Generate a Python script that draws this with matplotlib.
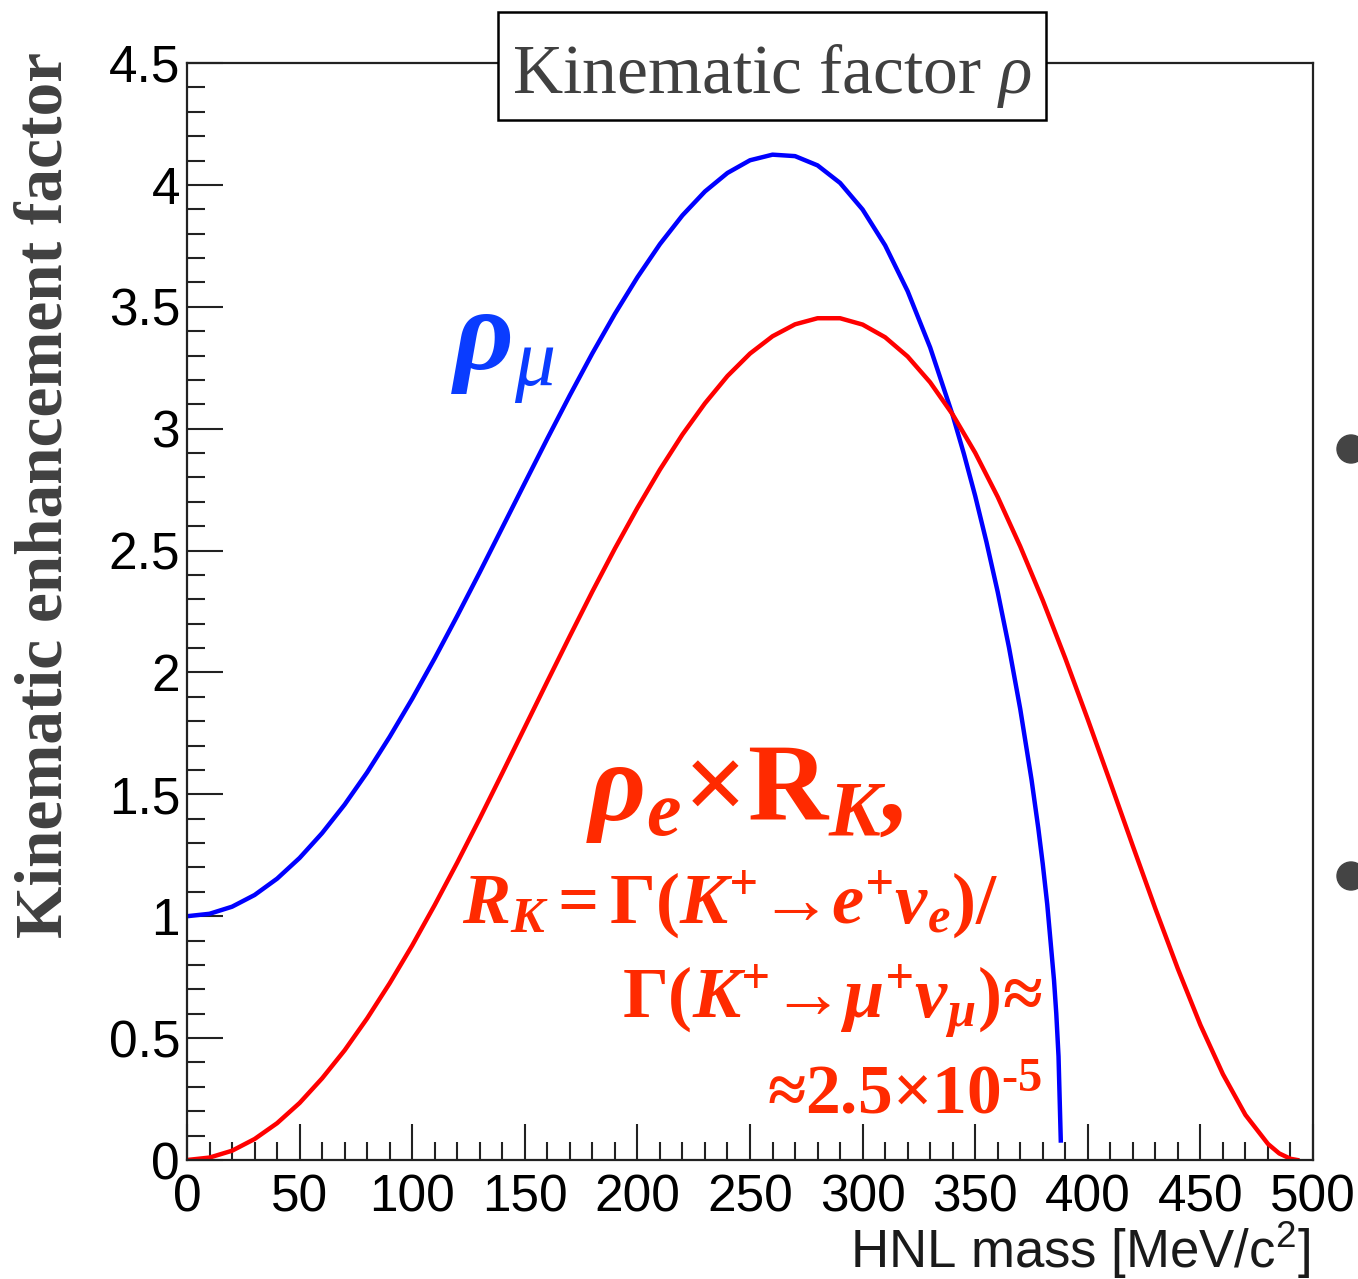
import matplotlib
matplotlib.use("Agg")
import matplotlib.pyplot as plt
from matplotlib.patches import Rectangle, Ellipse
from matplotlib.ticker import MultipleLocator, FuncFormatter

plt.rcParams['mathtext.fontset'] = 'custom'
plt.rcParams['mathtext.rm'] = 'Liberation Serif:bold'
plt.rcParams['mathtext.it'] = 'Liberation Serif:italic:bold'
plt.rcParams['mathtext.bf'] = 'Liberation Serif:bold'
plt.rcParams['mathtext.sf'] = 'Liberation Serif:italic'
plt.rcParams['mathtext.default'] = 'regular'

# ---- data ----
mass_mu = [0, 10, 20, 30, 40, 50, 60, 70, 80, 90, 100, 110, 120, 130, 140, 150,
           160, 170, 180, 190, 200, 210, 220, 230, 240, 250, 260, 270, 280, 290,
           300, 310, 320, 330, 340, 345, 350, 355, 360, 365, 370, 375, 378, 380,
           382, 385, 386, 387, 388]
rho_mu = [1.000, 1.010, 1.039, 1.087, 1.154, 1.239, 1.341, 1.458, 1.590, 1.736,
          1.892, 2.058, 2.232, 2.411, 2.594, 2.777, 2.959, 3.137, 3.309, 3.471,
          3.621, 3.757, 3.875, 3.973, 4.049, 4.101, 4.124, 4.118, 4.080, 4.008,
          3.899, 3.752, 3.564, 3.333, 3.055, 2.896, 2.724, 2.535, 2.330, 2.103,
          1.850, 1.561, 1.362, 1.214, 1.048, 0.737, 0.601, 0.425, 0.08]

mass_e = [0, 10, 20, 30, 40, 50, 60, 70, 80, 90, 100, 110, 120, 130, 140, 150,
          160, 170, 180, 190, 200, 210, 220, 230, 240, 250, 260, 270, 280, 290,
          300, 310, 320, 330, 340, 350, 360, 370, 380, 390, 400, 410, 420, 430,
          440, 450, 460, 470, 480, 485, 490, 493]
rho_e_RK = [0.0, 0.010, 0.038, 0.086, 0.151, 0.234, 0.335, 0.450, 0.581, 0.725,
            0.880, 1.046, 1.220, 1.401, 1.587, 1.775, 1.963, 2.149, 2.332, 2.508,
            2.675, 2.832, 2.976, 3.104, 3.216, 3.308, 3.379, 3.428, 3.453, 3.453,
            3.427, 3.375, 3.296, 3.190, 3.058, 2.901, 2.720, 2.517, 2.296, 2.058,
            1.807, 1.549, 1.288, 1.031, 0.784, 0.554, 0.352, 0.185, 0.066, 0.027,
            0.005, 0.0]

W, H = 1358, 1279
fig = plt.figure(figsize=(W / 100, H / 100), dpi=100)
fig.patch.set_facecolor('white')

def fx(px):
    return px / W

def fy(py):
    return 1 - py / H

ax = fig.add_axes([fx(187), fy(1160), (1313 - 187) / W, (1160 - 63) / H])
ax.plot(mass_mu, rho_mu, color='#0000ff', lw=3.2, solid_joinstyle='round')
ax.plot(mass_e, rho_e_RK, color='#ff0000', lw=3.2, solid_joinstyle='round')

ax.set_xlim(0, 500)
ax.set_ylim(0, 4.5)
ax.xaxis.set_major_locator(MultipleLocator(50))
ax.xaxis.set_minor_locator(MultipleLocator(10))
ax.yaxis.set_major_locator(MultipleLocator(0.5))
ax.yaxis.set_minor_locator(MultipleLocator(0.1))
ax.yaxis.set_major_formatter(FuncFormatter(lambda v, p: f"{v:g}"))
ax.xaxis.set_major_formatter(FuncFormatter(lambda v, p: f"{v:g}"))
ax.tick_params(which='both', direction='in', top=False, right=False,
               width=1.5, color='#222222', labelcolor='black')
ax.tick_params(which='major', length=26)
ax.tick_params(which='minor', length=13)
ax.tick_params(axis='y', which='major', pad=5)
ax.tick_params(axis='x', which='major', pad=10)
for lab in ax.get_xticklabels() + ax.get_yticklabels():
    lab.set_fontfamily('Liberation Sans')
    lab.set_fontsize(37)
for s in ax.spines.values():
    s.set_linewidth(1.6)
    s.set_color('#222222')

# y label
fig.text(fx(45), fy(495), "Kinematic enhancement factor", rotation=90,
         ha='center', va='center', fontsize=48.5, fontweight='bold',
         family='Liberation Serif', color='#404040')
# x label
fig.text(fx(1310), fy(1268), r"HNL mass [MeV/c$^{2}$]", ha='right',
         va='baseline', fontsize=38, family='Liberation Sans', color='#1a1a1a')

# title box
rect = Rectangle((fx(498), fy(120)), 548 / W, 108 / H, transform=fig.transFigure,
                 facecolor='white', edgecolor='black', lw=1.8, zorder=5)
fig.add_artist(rect)
fig.text(fx(772), fy(93), r"Kinematic factor $\mathsf{\rho}$", ha='center',
         va='baseline', fontsize=50, family='Liberation Serif', color='#404040',
         zorder=6)

# annotations
blue_txt = '#0a3cff'
red_txt = '#ff2a00'
fig.text(fx(451), fy(370), r"$\rho_{\mathsf{\mu}}$", ha='left', va='baseline',
         fontsize=84, family='Liberation Serif', fontweight='bold',
         style='italic', color=blue_txt)
fig.text(fx(586), fy(820), r"$\rho_{e}\mathbf{\times R}_{K}$,", ha='left',
         va='baseline', fontsize=80, family='Liberation Serif',
         fontweight='bold', style='italic', color=red_txt)
fig.text(fx(462), fy(923),
         r"$R_{K}\mathbf{=\Gamma(}K^{+}$→$e^{+}\nu_{e}\mathbf{)/}$",
         ha='left', va='baseline', fontsize=52, family='Liberation Serif',
         fontweight='bold', style='italic', color=red_txt)
fig.text(fx(1042), fy(1018),
         r"$\mathbf{\Gamma(}K^{+}$→$\mu^{+}\nu_{\mu}\mathbf{)}$≈",
         ha='right', va='baseline', fontsize=52, family='Liberation Serif',
         fontweight='bold', style='italic', color=red_txt)
fig.text(fx(1042), fy(1113), r"≈2.5×10$^{\text{-}5}$",
         ha='right', va='baseline', fontsize=50, family='Liberation Serif',
         fontweight='bold', color=red_txt)

# slide fragments (bullets at right edge)
for cy in (449, 876):
    fig.add_artist(Ellipse((fx(1351), fy(cy)), 28 / W, 28 / H,
                           transform=fig.transFigure, color='#444444'))

fig.savefig("out.png", dpi=100, facecolor='white')
